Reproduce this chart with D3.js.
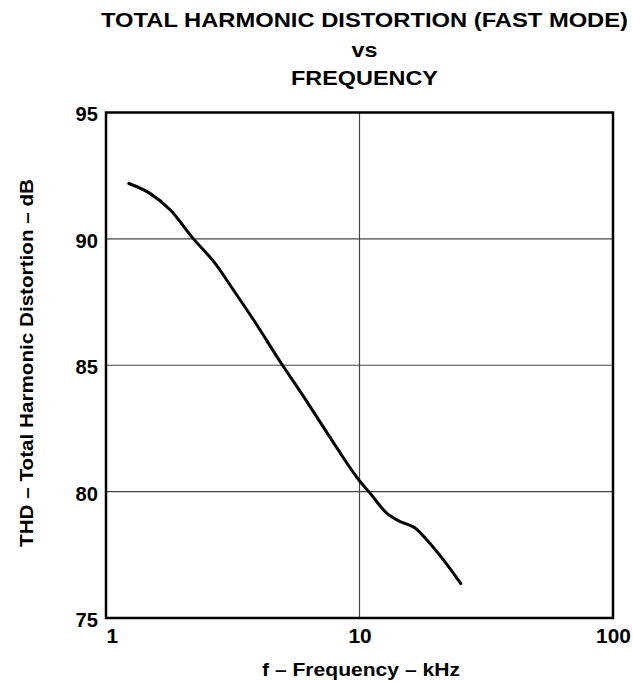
<!DOCTYPE html>
<html>
<head>
<meta charset="utf-8">
<script src="https://cdn.jsdelivr.net/npm/d3@7"></script>
<style>
  html, body { margin: 0; padding: 0; background: #fff; }
  svg { display: block; }
  text { font-family: "Liberation Sans", Arial, Helvetica, sans-serif; font-weight: bold; fill: #000; }
</style>
</head>
<body>
<div id="chart"></div>
<script>
// THD (fast mode) versus input frequency
const frequencyKHz = [1.23, 1.49, 1.79, 2.21, 2.69, 3.18, 3.84, 4.86, 6.10, 7.88, 10.05, 11.0, 12.8, 14.45, 16.56, 18.41, 21.4, 25.1];
const thdDb        = [92.19, 91.8, 91.15, 90.01, 89.04, 87.98, 86.76, 85.15, 83.67, 81.95, 80.4, 79.94, 79.15, 78.82, 78.56, 78.1, 77.31, 76.36];

const xTickValues = [1, 10, 100];
const yTickValues = [75, 80, 85, 90, 95];

const titleLines = ["TOTAL HARMONIC DISTORTION (FAST MODE)", "vs", "FREQUENCY"];
const xAxisTitle = "f \u2013 Frequency \u2013 kHz";
const yAxisTitle = "THD \u2013 Total Harmonic Distortion \u2013 dB";

const W = 633, H = 681;
const plot = { left: 106, right: 613, top: 112.5, bottom: 618 };

const svg = d3.select("#chart").append("svg")
  .attr("width", W).attr("height", H);

const x = d3.scaleLog().domain([1, 100]).range([plot.left, plot.right]);
const y = d3.scaleLinear().domain([75, 95]).range([plot.bottom, plot.top]);

// Interior grid lines
const grid = svg.append("g").attr("stroke", "#444").attr("stroke-width", 1.2);
grid.selectAll("line.gx")
  .data(xTickValues.filter(v => v > 1 && v < 100))
  .join("line")
  .attr("x1", d => x(d)).attr("x2", d => x(d))
  .attr("y1", plot.top).attr("y2", plot.bottom);
grid.selectAll("line.gy")
  .data(yTickValues.filter(v => v > 75 && v < 95))
  .join("line")
  .attr("x1", plot.left).attr("x2", plot.right)
  .attr("y1", d => y(d)).attr("y2", d => y(d));

// Plot frame
svg.append("rect")
  .attr("x", plot.left).attr("y", plot.top)
  .attr("width", plot.right - plot.left).attr("height", plot.bottom - plot.top)
  .attr("fill", "none").attr("stroke", "#000").attr("stroke-width", 2.5);

// Axes (labels only; the frame stands in for the axis lines)
const xAxis = svg.append("g")
  .attr("transform", `translate(0,${plot.bottom})`)
  .call(d3.axisBottom(x).tickValues(xTickValues).tickFormat(d3.format("d")).tickSize(0).tickPadding(25));
xAxis.select(".domain").remove();
xAxis.selectAll("text")
  .attr("font-size", 20).attr("font-family", null).attr("fill", "#000")
  .attr("text-anchor", (d, i) => i === 0 ? "start" : "middle")
  .attr("dy", 0)
  .attr("textLength", d => String(d).length * 11.6)
  .attr("lengthAdjust", "spacingAndGlyphs");

const yAxis = svg.append("g")
  .attr("transform", `translate(${plot.left},0)`)
  .call(d3.axisLeft(y).tickValues(yTickValues).tickFormat(d3.format("d")).tickSize(0).tickPadding(8));
yAxis.select(".domain").remove();
yAxis.selectAll("text")
  .attr("font-size", 20).attr("font-family", null).attr("fill", "#000")
  .attr("dy", "0.42em")
  .attr("textLength", d => String(d).length * 11.2)
  .attr("lengthAdjust", "spacingAndGlyphs");

// Curve
const line = d3.line()
  .x((d, i) => x(frequencyKHz[i]))
  .y(d => y(d))
  .curve(d3.curveMonotoneX);
svg.append("path")
  .datum(thdDb)
  .attr("d", line)
  .attr("fill", "none")
  .attr("stroke", "#000")
  .attr("stroke-width", 3)
  .attr("stroke-linecap", "round")
  .attr("stroke-linejoin", "round");

// Title
const titleWidths = [527, null, 147];
const titleBaselines = [26.7, 56.7, 85];
titleLines.forEach((t, i) => {
  const el = svg.append("text")
    .attr("x", 364.5).attr("y", titleBaselines[i])
    .attr("text-anchor", "middle")
    .attr("font-size", 21)
    .text(t);
  if (titleWidths[i]) el.attr("textLength", titleWidths[i]).attr("lengthAdjust", "spacingAndGlyphs");
  else el.attr("transform", `translate(364.5,0) scale(1.11,1) translate(-364.5,0)`);
});

// Axis titles
svg.append("text")
  .attr("x", 361).attr("y", 676)
  .attr("text-anchor", "middle")
  .attr("font-size", 19)
  .attr("textLength", 198).attr("lengthAdjust", "spacingAndGlyphs")
  .text(xAxisTitle);

svg.append("text")
  .attr("transform", "translate(33.3,363) rotate(-90)")
  .attr("text-anchor", "middle")
  .attr("font-size", 19)
  .attr("textLength", 368).attr("lengthAdjust", "spacingAndGlyphs")
  .text(yAxisTitle);
</script>
</body>
</html>
